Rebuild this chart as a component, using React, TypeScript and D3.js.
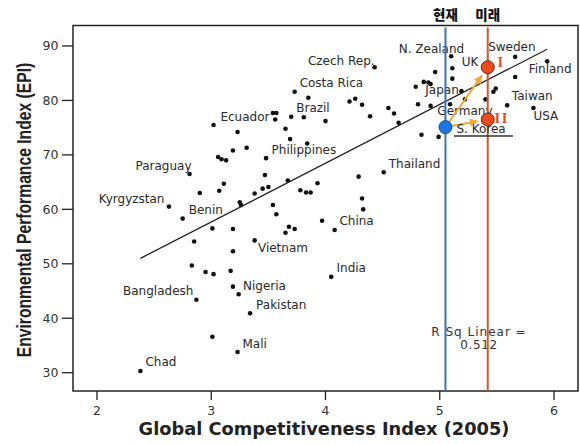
import React from "react";
import * as d3 from "d3";

// ---- data ----
const names: string[] = [
  "Chad", "Bangladesh", "", "Mali", "Pakistan", "Nigeria", "", "", "", "", "", "", "", "", "",
  "Benin", "Kyrgyzstan", "", "", "", "", "", "Paraguay", "", "", "", "", "", "", "",
  "Philippines", "", "", "", "", "Vietnam", "", "", "", "", "", "", "", "", "", "", "",
  "China", "India", "", "", "", "Thailand", "", "", "",
  "Ecuador", "", "", "Brazil", "", "", "Costa Rica", "", "", "", "", "", "", "", "",
  "Czech Rep.", "", "", "", "", "", "", "", "", "",
  "N. Zealand", "", "", "Japan", "Germany", "", "", "", "",
  "Sweden", "Finland", "", "Taiwan", "USA", "UK",
];
const gci: number[] = [
  2.38, 2.87, 3.01, 3.23, 3.34, 3.19, 3.24, 2.83, 2.95, 3.02, 3.17, 3.19, 2.85, 3.01, 3.19,
  2.75, 2.63, 3.25, 3.26, 2.90, 3.07, 3.11, 2.81, 3.06, 3.09, 3.13, 3.19, 3.31, 3.02, 3.23,
  3.48, 3.47, 3.38, 3.45, 3.50, 3.38, 3.54, 3.57, 3.65, 3.68, 3.73, 3.67, 3.78, 3.83, 3.87, 3.93, 3.97,
  4.08, 4.05, 4.32, 4.33, 4.29, 4.51, 3.65, 3.69, 3.84,
  3.54, 3.57, 3.56, 3.70, 3.81, 4.00, 3.73, 3.85, 4.21, 4.26, 4.32, 4.39, 4.55, 4.60, 4.64,
  4.43, 4.79, 4.86, 4.90, 4.92, 4.96, 4.81, 4.92, 4.84, 4.99,
  5.10, 5.11, 5.11, 5.19, 5.09, 5.22, 5.40, 5.47, 5.49,
  5.66, 5.94, 5.66, 5.59, 5.82, 5.40,
];
const epi: number[] = [
  30.3, 43.4, 36.6, 33.8, 40.9, 45.8, 44.4, 49.7, 48.5, 48.1, 48.7, 52.3, 54.1, 56.5, 56.4,
  58.3, 60.5, 61.3, 60.8, 63.0, 63.4, 64.7, 66.5, 69.6, 69.2, 69.0, 70.8, 71.3, 75.5, 74.2,
  69.4, 66.3, 62.9, 63.8, 64.1, 54.3, 60.8, 59.1, 55.7, 56.8, 56.4, 65.3, 63.5, 63.1, 63.1, 64.8, 57.9,
  56.2, 47.6, 62.0, 60.0, 66.0, 66.8, 74.8, 72.9, 72.1,
  77.7, 77.7, 76.5, 77.0, 76.9, 76.2, 81.6, 80.5, 79.8, 80.3, 79.2, 77.1, 78.6, 77.6, 75.9,
  86.1, 82.5, 83.4, 83.3, 83.0, 85.2, 79.3, 79.0, 73.7, 73.3,
  88.1, 85.9, 84.0, 81.7, 79.3, 80.2, 80.2, 81.6, 82.2,
  88.0, 87.2, 84.3, 79.1, 78.6, 85.8,
];

const koreaNow = { gci: 5.05, epi: 75.1 };
const futureGci = 5.42;
const futureEpi = [86.1, 76.5];
const futureLabels = ["I", "II"];

const fitGci = [2.38, 5.94];
const fitEpi = [51.0, 89.4];

const xTicks = [2, 3, 4, 5, 6];
const yTicks = [30, 40, 50, 60, 70, 80, 90];

const rSqLines = ["R Sq Linear =", "0.512"];
const headerLabels = ["현재", "미래"];

// ---- layout ----
const W = 580, H = 444;
const L = 73, R = 578, T = 25.5, B = 391;

const labelLayout: Record<string, { dx: number; dy: number; anchor: string }> = {
  Chad: { dx: 5, dy: -9, anchor: "start" },
  Bangladesh: { dx: -3, dy: -9.5, anchor: "end" },
  Mali: { dx: 5, dy: -8, anchor: "start" },
  Pakistan: { dx: 6, dy: -9, anchor: "start" },
  Nigeria: { dx: 10, dy: -0.5, anchor: "start" },
  Benin: { dx: 6, dy: -9, anchor: "start" },
  Kyrgyzstan: { dx: -4.5, dy: -7.5, anchor: "end" },
  Paraguay: { dx: 2, dy: -8, anchor: "end" },
  Ecuador: { dx: -3.5, dy: 3.5, anchor: "end" },
  Philippines: { dx: 5.5, dy: -8.5, anchor: "start" },
  Brazil: { dx: 5, dy: -9, anchor: "start" },
  "Costa Rica": { dx: 5, dy: -9, anchor: "start" },
  "Czech Rep.": { dx: 0, dy: -7, anchor: "end" },
  "N. Zealand": { dx: 13, dy: -8, anchor: "end" },
  Sweden: { dx: -3.3, dy: -10, anchor: "middle" },
  UK: { dx: -7, dy: -6.7, anchor: "end" },
  Finland: { dx: 3, dy: 7.3, anchor: "middle" },
  Japan: { dx: -2.7, dy: -1, anchor: "end" },
  Taiwan: { dx: 4.7, dy: -9.8, anchor: "start" },
  Germany: { dx: -12.7, dy: 6, anchor: "start" },
  USA: { dx: 0, dy: 7.7, anchor: "start" },
  Thailand: { dx: 5, dy: -9, anchor: "start" },
  China: { dx: 4.8, dy: -9, anchor: "start" },
  Vietnam: { dx: 3.3, dy: 7.2, anchor: "start" },
  India: { dx: 5.3, dy: -9.3, anchor: "start" },
};

const FONT = "'DejaVu Sans', sans-serif";
const TEXT = "#2a2a2a";

export default function App() {
  const x = d3.scaleLinear().domain([1.79, 6.21]).range([L, R]);
  const y = d3.scaleLinear().domain([26.64, 93.76]).range([B, T]);

  const fitLine = d3
    .line<number>()
    .x((d) => x(fitGci[d]))
    .y((d) => y(fitEpi[d]))([0, 1]) as string;

  const kx = x(koreaNow.gci), ky = y(koreaNow.epi);
  const fx = x(futureGci);

  const arrows = futureEpi.map((e) => {
    const tx = fx, ty = y(e);
    const ddx = tx - kx, ddy = ty - ky;
    const len = Math.hypot(ddx, ddy);
    const ux = ddx / len, uy = ddy / len;
    const sx = kx + ux * 6, sy = ky + uy * 6;
    const tipX = tx - ux * 9, tipY = ty - uy * 9;
    const hl = 9, hw = 4;
    const bx = tipX - ux * hl, by = tipY - uy * hl;
    const px = -uy, py = ux;
    return {
      line: [sx, sy, bx + ux * 1, by + uy * 1],
      head: `${tipX},${tipY} ${bx + px * hw},${by + py * hw} ${bx - px * hw},${by - py * hw}`,
    };
  });

  const yTitleX = 24, yTitleY = 210;

  return (
    <svg
      width={W}
      height={H}
      viewBox={`0 0 ${W} ${H}`}
      style={{ position: "absolute", left: 0, top: 0, background: "#fff" }}
    >
      <rect x={0} y={0} width={W} height={H} fill="#fff" />

      {/* frame */}
      <rect x={L} y={T} width={R - L} height={B - T} fill="none" stroke="#222" strokeWidth={1.5} />

      {/* y ticks */}
      {yTicks.map((t) => (
        <g key={"y" + t}>
          <line x1={62} x2={L} y1={y(t)} y2={y(t)} stroke="#222" strokeWidth={1.3} />
          <text x={58.5} y={y(t)} dy="0.36em" textAnchor="end" fontFamily={FONT} fontSize={12.5} fill="#333">
            {t}
          </text>
        </g>
      ))}
      {/* x ticks */}
      {xTicks.map((t) => (
        <g key={"x" + t}>
          <line x1={x(t)} x2={x(t)} y1={B} y2={B + 9} stroke="#222" strokeWidth={1.3} />
          <text x={x(t)} y={410} dy="0.36em" textAnchor="middle" fontFamily={FONT} fontSize={12.5} fill="#333">
            {t}
          </text>
        </g>
      ))}

      {/* axis titles */}
      <text
        x={324}
        y={428.5}
        dy="0.36em"
        textAnchor="middle"
        fontFamily="'DejaVu Sans', sans-serif"
        fontWeight="bold"
        fontSize={17.8}
        fill="#222"
      >
        Global Competitiveness Index (2005)
      </text>
      <text
        transform={`translate(${yTitleX},${yTitleY}) scale(1.3,1) rotate(-90)`}
        x={0}
        y={0}
        dy="0.36em"
        textAnchor="middle"
        fontFamily="'Liberation Sans', Arial, sans-serif"
        fontWeight="bold"
        fontSize={15.7}
        fill="#222"
      >
        Environmental Performance Index (EPI)
      </text>

      {/* dots */}
      {gci.map((g, i) => (
        <circle key={"p" + i} cx={x(g)} cy={y(epi[i])} r={2.3} fill="#111" />
      ))}

      {/* fit line */}
      <path d={fitLine} fill="none" stroke="#222" strokeWidth={1.3} />

      {/* country labels */}
      {names.map((n, i) => {
        if (!n) return null;
        const lay = labelLayout[n];
        if (!lay) return null;
        return (
          <text
            key={"l" + i}
            x={x(gci[i]) + lay.dx}
            y={y(epi[i]) + lay.dy}
            dy="0.36em"
            textAnchor={lay.anchor}
            fontFamily={FONT}
            fontSize={12}
            fill={TEXT}
          >
            {n}
          </text>
        );
      })}

      {/* R squared */}
      {rSqLines.map((s, i) => (
        <text
          key={"r" + i}
          x={479}
          y={331.7 + i * 13.3}
          dy="0.36em"
          textAnchor="middle"
          fontFamily={FONT}
          fontSize={12}
          letterSpacing={i === 0 ? 1 : 0.6}
          fill="#333"
        >
          {s}
        </text>
      ))}

      {/* vertical reference lines */}
      <line x1={kx} x2={kx} y1={T + 2} y2={B} stroke="#2f74c9" strokeWidth={2} />
      <line x1={fx} x2={fx} y1={T + 2} y2={B} stroke="#d5552e" strokeWidth={2} />

      {/* header labels */}
      {headerLabels.map((h, i) => (
        <text
          key={"h" + i}
          x={i === 0 ? kx : fx}
          y={15}
          dy="0.36em"
          textAnchor="middle"
          fontFamily="'Noto Sans CJK KR', sans-serif"
          fontWeight={900}
          fontSize={13.5}
          fill="#111"
        >
          {h}
        </text>
      ))}

      {/* arrows */}
      {arrows.map((a, i) => (
        <g key={"a" + i}>
          <line x1={a.line[0]} y1={a.line[1]} x2={a.line[2]} y2={a.line[3]} stroke="#f5a733" strokeWidth={2} />
          <polygon points={a.head} fill="#f5a733" />
        </g>
      ))}

      {/* S. Korea label + underline */}
      <text x={kx + 11} y={ky + 1.5} dy="0.36em" fontFamily={FONT} fontSize={12} fill={TEXT}>
        S. Korea
      </text>
      <line x1={kx + 8.5} x2={kx + 67.5} y1={ky + 9} y2={ky + 9} stroke="#333" strokeWidth={1.5} />

      {/* circles */}
      <circle cx={kx} cy={ky} r={6.5} fill="#1b74e4" stroke="#1d4f96" strokeWidth={1} />
      {futureEpi.map((e, i) => (
        <g key={"f" + i}>
          <circle cx={fx} cy={y(e)} r={6.5} fill="#ea4a1c" stroke="#5a2a1a" strokeWidth={1} />
          <text
            x={fx + (i === 0 ? 12.5 : 14)}
            y={y(e) - (i === 0 ? 5 : 1.5)}
            dy="0.36em"
            textAnchor="middle"
            fontFamily="'Liberation Serif', serif"
            fontWeight="bold"
            fontSize={14.5}
            letterSpacing={i === 1 ? 1.5 : 0}
            fill="#e2522a"
          >
            {futureLabels[i]}
          </text>
        </g>
      ))}
    </svg>
  );
}
